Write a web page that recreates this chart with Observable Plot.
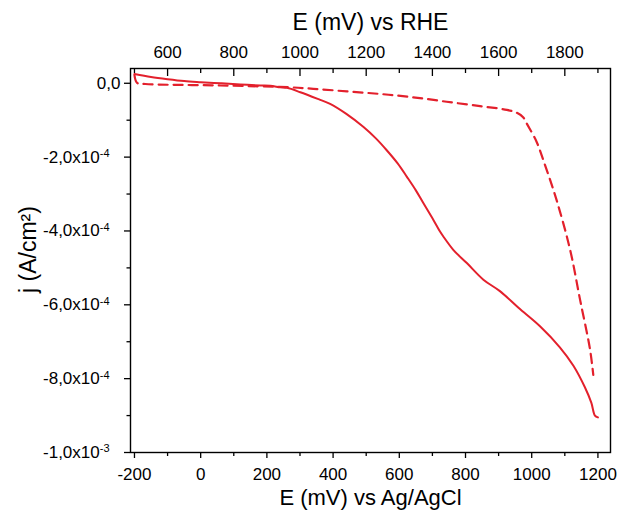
<!DOCTYPE html>
<html>
<head>
<meta charset="utf-8">
<script src="https://cdn.jsdelivr.net/npm/d3@7"></script>
<script src="https://cdn.jsdelivr.net/npm/@observablehq/plot@0.6"></script>
<style>
  html, body { margin: 0; padding: 0; background: #fff; }
  #chart { width: 618px; height: 513px; }
</style>
</head>
<body>
<div id="chart"></div>
<script>
// ---- data (E in mV vs Ag/AgCl, j in A/cm²) ----
const solidE = [-200, -150, -100, -50, 0, 60, 120, 180, 210, 241, 261, 301, 361, 391, 440, 492, 530, 562, 595, 623, 650, 673, 703, 723, 733, 763, 804, 854, 904, 960, 1025, 1085, 1126, 1161, 1180, 1191, 1200];
const solidJ = [2.5e-5, 1.7e-5, 1.1e-5, 6e-6, 3e-6, 0, -3e-6, -6e-6, -7e-6, -1.08e-5, -1.24e-5, -2.43e-5, -4.5e-5, -5.58e-5, -8.3e-5, -1.186e-4, -1.5e-4, -1.814e-4, -2.17e-4, -2.534e-4, -2.9e-4, -3.25e-4, -3.7e-4, -4.016e-4, -4.15e-4, -4.51e-4, -4.87e-4, -5.32e-4, -5.63e-4, -6.08e-4, -6.58e-4, -7.15e-4, -7.65e-4, -8.24e-4, -8.65e-4, -9.0e-4, -9.05e-4];

const dashedE = [-200, -192, -167, 60, 271, 340, 442, 542, 642, 743, 844, 925, 955, 974, 985, 1015, 1035, 1075, 1116, 1146, 1176, 1186];
const dashedJ = [2.2e-5, 1e-6, -2e-6, -6e-6, -1.1e-5, -1.5e-5, -2.2e-5, -2.9e-5, -3.8e-5, -5.0e-5, -6.2e-5, -7.2e-5, -8.0e-5, -9.2e-5, -1.09e-4, -1.59e-4, -2.08e-4, -3.16e-4, -4.51e-4, -5.86e-4, -7.2e-4, -7.9e-4];

// ---- axes ----
const xMajor = [-200, 0, 200, 400, 600, 800, 1000, 1200];
const xMinor = [-100, 100, 300, 500, 700, 900, 1100];
const rheOffset = 700; // E(RHE) = E(Ag/AgCl) + offset
const rheMajor = [600, 800, 1000, 1200, 1400, 1600, 1800];
const rheMinor = [500, 700, 900, 1100, 1300, 1500, 1700, 1900];
const yMajor = [0, -2e-4, -4e-4, -6e-4, -8e-4, -1e-3];
const yMinor = [-1e-4, -3e-4, -5e-4, -7e-4, -9e-4];
const yTickBase = ["0,0", "-2,0x10", "-4,0x10", "-6,0x10", "-8,0x10", "-1,0x10"];
const yTickExp = ["", "-4", "-4", "-4", "-4", "-3"];

const xTitleBottom = "E (mV) vs Ag/AgCl";
const xTitleTop = "E (mV) vs RHE";
const yTitle = "j (A/cm²)";

const red = "#e3202c";
const solid = solidE.map((e, i) => ({E: e, j: solidJ[i]}));
const dashed = dashedE.map((e, i) => ({E: e, j: dashedJ[i]}));
const yLabel = d => yTickBase[yMajor.indexOf(d)] ?? "";
const yZero = yMajor.filter((d, i) => !yTickExp[i]);
const yExpTicks = yMajor.filter((d, i) => yTickExp[i]);

const font = "Liberation Sans, Arial, Helvetica, sans-serif";

const plot = Plot.plot({
  width: 618,
  height: 513,
  marginTop: 68,
  marginLeft: 130,
  marginRight: 8,
  marginBottom: 61,
  style: {fontFamily: font, fontSize: "16px", color: "#000", background: "#fff"},
  x: {domain: [-212, 1238]},
  y: {domain: [-1e-3, 4.0e-5]},
  marks: [
    // bottom axis
    Plot.axisX({anchor: "bottom", ticks: xMajor, tickSize: 6, tickPadding: 9, tickFormat: d => String(d), label: null, fontSize: 17, strokeWidth: 1.3}),
    Plot.axisX({anchor: "bottom", ticks: xMinor, tickSize: 4, tickFormat: () => "", label: null, strokeWidth: 1.3}),
    // top axis (RHE), ticks inward
    Plot.axisX({anchor: "top", ticks: rheMajor.map(v => v - rheOffset), tickSize: 7, dy: 7, tickFormat: () => "", label: null, strokeWidth: 1.3}),
    Plot.axisX({anchor: "top", ticks: rheMinor.map(v => v - rheOffset), tickSize: 4, dy: 4, tickFormat: () => "", label: null, strokeWidth: 1.3}),
    Plot.axisX({anchor: "top", ticks: rheMajor.map(v => v - rheOffset), tickSize: 0, tickPadding: 11, tickFormat: d => String(d + rheOffset), label: null, fontSize: 17}),
    // left axis
    Plot.axisY({anchor: "left", ticks: yZero, tickSize: 6, tickPadding: 4, tickFormat: yLabel, label: null, fontSize: 17, strokeWidth: 1.3}),
    Plot.axisY({anchor: "left", ticks: yExpTicks, tickSize: 6, tickPadding: 15, tickFormat: yLabel, label: null, fontSize: 17, strokeWidth: 1.3}),
    Plot.axisY({anchor: "left", ticks: yMinor, tickSize: 3.5, tickFormat: () => "", label: null, strokeWidth: 1.3}),
    Plot.frame({stroke: "#000", strokeWidth: 1.4}),
    // data
    Plot.line(solid, {x: "E", y: "j", stroke: red, strokeWidth: 2, curve: "catmull-rom"}),
    Plot.line(dashed, {x: "E", y: "j", stroke: red, strokeWidth: 2.2, strokeDasharray: "9,6", curve: "catmull-rom"}),
    // titles
    Plot.text([xTitleTop], {frameAnchor: "top", lineAnchor: "middle", dy: -46, fontSize: 23, fill: "#000", fontFamily: font}),
    Plot.text([xTitleBottom], {frameAnchor: "bottom", lineAnchor: "middle", dy: 45, fontSize: 22, fill: "#000", fontFamily: font}),
    Plot.text([yTitle], {frameAnchor: "left", textAnchor: "middle", lineAnchor: "middle", dx: -102, dy: -11, rotate: -90, fontSize: 23, fill: "#000", fontFamily: font})
  ]
});

document.getElementById("chart").appendChild(plot);

// superscript exponents on the y tick labels
const ns = "http://www.w3.org/2000/svg";
plot.querySelectorAll('g[aria-label="y-axis tick label"] text').forEach(t => {
  const base = t.textContent;
  const i = yTickBase.indexOf(base);
  if (i >= 0 && yTickExp[i]) {
    const sp = document.createElementNS(ns, "tspan");
    sp.setAttribute("dy", "-0.5em");
    sp.setAttribute("font-size", "11");
    sp.textContent = yTickExp[i];
    t.appendChild(sp);
  }
});
</script>
</body>
</html>
